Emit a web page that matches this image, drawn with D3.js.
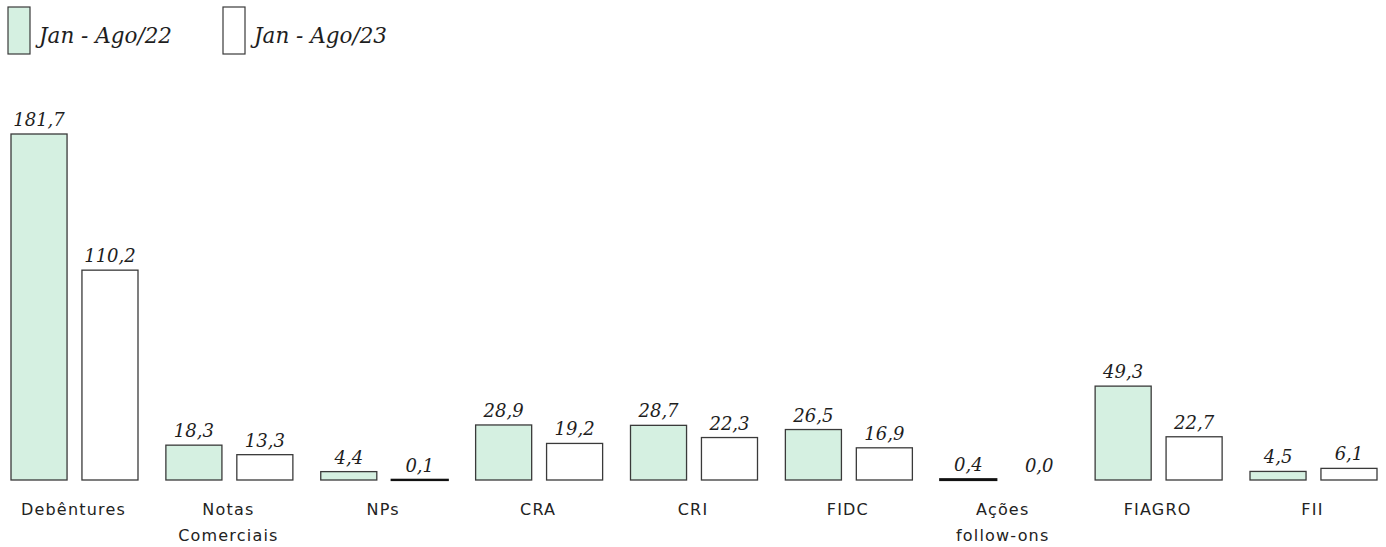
<!DOCTYPE html>
<meta charset="utf-8">
<style>
body{margin:0;background:#fff;}
.val{font-family:"DejaVu Serif";font-style:italic;font-size:18px;fill:#1e1e1e;}
.cat{font-family:"DejaVu Sans";font-size:16px;letter-spacing:1.2px;fill:#222;}
.leg{font-family:"DejaVu Serif";font-style:italic;font-size:21.5px;fill:#1e1e1e;}
</style>
<script src="https://cdn.jsdelivr.net/npm/d3@7"></script>
<svg id="chart" width="1386" height="547"></svg>
<script>
// categories and series
var categories = ["Debêntures","Notas\nComerciais","NPs","CRA","CRI","FIDC","Ações\nfollow-ons","FIAGRO","FII"]
var series = ["Jan - Ago/22","Jan - Ago/23"]
var values22 = [181.7,18.3,4.4,28.9,28.7,26.5,0.4,49.3,4.5]
var values23 = [110.2,13.3,0.1,19.2,22.3,16.9,0.0,22.7,6.1]
var fills = ["#d5f0e1","#ffffff"]

var svg = d3.select("#chart")
var baseY = 480

var x0 = d3.scaleBand().domain(categories).range([11,1377]).paddingInner(0.18).paddingOuter(0)
var x1 = d3.scaleBand().domain(series).range([0,x0.bandwidth()]).paddingInner(0.21)
var y = d3.scaleLinear().domain([0,181.7]).range([baseY,134])

var fmt = function(v){ return v.toFixed(1).replace(".",",") }

var rows = categories.map(function(c,i){
	return {cat:c, vals:[{s:series[0],v:values22[i],f:fills[0]},{s:series[1],v:values23[i],f:fills[1]}]}
})

var g = svg.selectAll("g.grp").data(rows).enter().append("g")
	.attr("class","grp")
	.attr("transform",function(d){return "translate("+x0(d.cat)+",0)"})

var bars = g.selectAll("g.bar").data(function(d){return d.vals}).enter().append("g").attr("class","bar")

bars.filter(function(d){return d.v>0}).append("rect")
	.attr("x",function(d){return x1(d.s)})
	.attr("width",x1.bandwidth())
	.attr("y",function(d){return y(d.v)})
	.attr("height",function(d){return baseY-y(d.v)})
	.attr("fill",function(d){return d.f})
	.attr("stroke",function(d){return d.v<1 ? "#111" : "#3a3a3a"})
	.attr("stroke-width",function(d){return d.v<1 ? 2.2 : 1.3})

bars.append("text").attr("class","val")
	.attr("x",function(d){return x1(d.s)+x1.bandwidth()/2})
	.attr("y",function(d){return y(d.v)-8})
	.attr("text-anchor","middle")
	.text(function(d){return fmt(d.v)})

// category labels
g.append("text").attr("class","cat")
	.attr("text-anchor","middle")
	.attr("y",515)
	.selectAll("tspan").data(function(d){return d.cat.split("\n")}).enter().append("tspan")
	.attr("x",x0.bandwidth()/2 - 1)
	.attr("dy",function(d,i){return i ? 26 : 0})
	.text(function(d){return d})

// legend
var leg = svg.selectAll("g.leg").data(series).enter().append("g")
	.attr("transform",function(d,i){return "translate("+(8+i*215)+",7)"})
leg.append("rect").attr("width",22).attr("height",47)
	.attr("fill",function(d,i){return fills[i]})
	.attr("stroke","#3a3a3a").attr("stroke-width",1.2)
leg.append("text").attr("class","leg").attr("x",31).attr("y",36).text(function(d){return d})
</script>
